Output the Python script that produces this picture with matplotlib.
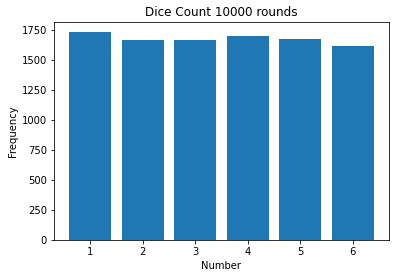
import matplotlib
matplotlib.use("Agg")
import matplotlib.pyplot as plt

numbers = [1, 2, 3, 4, 5, 6]
frequency = [1728, 1662, 1662, 1695, 1670, 1611]

W, H = 399, 278
dpi = 72
fig = plt.figure(figsize=(W / dpi, H / dpi), dpi=dpi)
left, right, top, bottom = 54, 389, 22, 240
ax = fig.add_axes([left / W, 1 - bottom / H, (right - left) / W, (bottom - top) / H])
ax.bar(numbers, frequency, color="#1f77b4")
ax.set_title("Dice Count 10000 rounds", fontsize=12)
ax.set_xlabel("Number", fontsize=10)
ax.set_ylabel("Frequency", fontsize=10)
ax.set_yticks(range(0, 1751, 250))
ax.tick_params(labelsize=10)
fig.savefig("out.png", dpi=dpi)
